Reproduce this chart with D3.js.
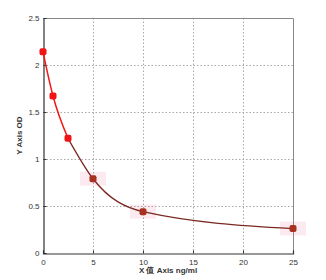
<!DOCTYPE html>
<html>
<head>
<meta charset="utf-8">
<script src="https://cdn.jsdelivr.net/npm/d3@7"></script>
<style>
  body { margin: 0; background: #fff; }
  text { font-family: "Liberation Sans", Arial, sans-serif; }
</style>
</head>
<body>
<script>
// Standard curve readings
const concentrations = [0, 1, 2.5, 5, 10, 25];
const odValues = [2.14, 1.67, 1.22, 0.79, 0.44, 0.26];
const xTicks = [0, 5, 10, 15, 20, 25];
const yTicks = [0, 0.5, 1, 1.5, 2, 2.5];
const yTickLabels = ["0", "0.5", "1", "1.5", "2", "2.5"];

const W = 326, H = 280;
const PLOT_LEFT = 43, PLOT_RIGHT = 293, PLOT_TOP = 18, PLOT_BOTTOM = 253;

const svg = d3.select("body").append("svg")
    .attr("width", W)
    .attr("height", H);

const x = d3.scaleLinear().domain([0, 25]).range([PLOT_LEFT, PLOT_RIGHT]);
const y = d3.scaleLinear().domain([0, 2.5]).range([PLOT_BOTTOM, PLOT_TOP]);

const points = concentrations.map((c, i) => ({ x: c, y: odValues[i] }));

// pale pink smudges behind the lower points
svg.append("g")
    .selectAll("rect")
    .data(points.slice(3))
    .enter()
    .append("rect")
        .attr("x", d => x(d.x) - 13)
        .attr("y", d => y(d.y) - 7)
        .attr("width", 26)
        .attr("height", 14)
        .attr("fill", "#fde3ec")
        .attr("opacity", 0.8);

// grid
const grid = svg.append("g")
    .attr("stroke", "#a8a8a8")
    .attr("stroke-width", 1)
    .attr("stroke-dasharray", "1.5,2");

grid.selectAll("line.gx")
    .data(xTicks.slice(1, -1))
    .enter()
    .append("line")
        .attr("x1", d => x(d) + 0.5)
        .attr("x2", d => x(d) + 0.5)
        .attr("y1", PLOT_TOP)
        .attr("y2", PLOT_BOTTOM);

grid.selectAll("line.gy")
    .data(yTicks.slice(1, -1))
    .enter()
    .append("line")
        .attr("y1", d => Math.round(y(d)) + 0.5)
        .attr("y2", d => Math.round(y(d)) + 0.5)
        .attr("x1", PLOT_LEFT)
        .attr("x2", PLOT_RIGHT);

// frame
svg.append("path")
    .attr("d", `M${PLOT_LEFT + 0.5},${PLOT_TOP + 0.5}H${PLOT_RIGHT + 0.5}V${PLOT_BOTTOM + 0.5}`)
    .attr("fill", "none")
    .attr("stroke", "#888");

// axes
const xAxis = svg.append("g")
    .attr("transform", `translate(0,${PLOT_BOTTOM + 0.5})`)
    .call(d3.axisBottom(x).tickValues(xTicks).tickSize(-3).tickPadding(6));
const yAxis = svg.append("g")
    .attr("transform", `translate(${PLOT_LEFT + 0.5},0)`)
    .call(d3.axisLeft(y).tickValues(yTicks).tickFormat((d, i) => yTickLabels[i])
        .tickSize(-3).tickPadding(4));

[xAxis, yAxis].forEach(a =>
{
  a.select(".domain").attr("stroke", "#333").attr("stroke-width", 1.2);
  a.selectAll(".tick line").attr("stroke", "#333");
  a.selectAll("text").attr("font-size", 8).attr("fill", "#333")
      .attr("font-family", "Liberation Sans, Arial, sans-serif");
});

// fitted curve
const line = d3.line()
    .x(d => x(d.x))
    .y(d => y(d.y))
    .curve(d3.curveMonotoneX);

svg.append("path")
    .datum(points.slice(2))
    .attr("d", line)
    .attr("fill", "none")
    .attr("stroke", "#7a2a22")
    .attr("stroke-width", 1.3);

svg.append("path")
    .datum(points.slice(0, 3))
    .attr("d", line)
    .attr("fill", "none")
    .attr("stroke", "#f01818")
    .attr("stroke-width", 1.5);

// markers
svg.append("g")
    .selectAll("rect")
    .data(points)
    .enter()
    .append("rect")
        .attr("x", d => x(d.x) - 3.5)
        .attr("y", d => y(d.y) - 3.5)
        .attr("width", 7)
        .attr("height", 7)
        .attr("rx", 2)
        .attr("fill", (d, i) => i < 3 ? "#f01414" : "#a83220");

// axis titles
svg.append("text")
    .attr("transform", `translate(22,${(PLOT_TOP + PLOT_BOTTOM) / 2}) rotate(-90)`)
    .attr("text-anchor", "middle")
    .attr("font-size", 8)
    .attr("font-weight", "bold")
    .attr("fill", "#333")
    .text("Y Axis OD");

svg.append("text")
    .attr("x", (PLOT_LEFT + PLOT_RIGHT) / 2)
    .attr("y", 273)
    .attr("text-anchor", "middle")
    .attr("font-size", 8)
    .attr("font-weight", "bold")
    .attr("fill", "#333")
    .text("X 值 Axis ng/ml");
</script>
</body>
</html>
